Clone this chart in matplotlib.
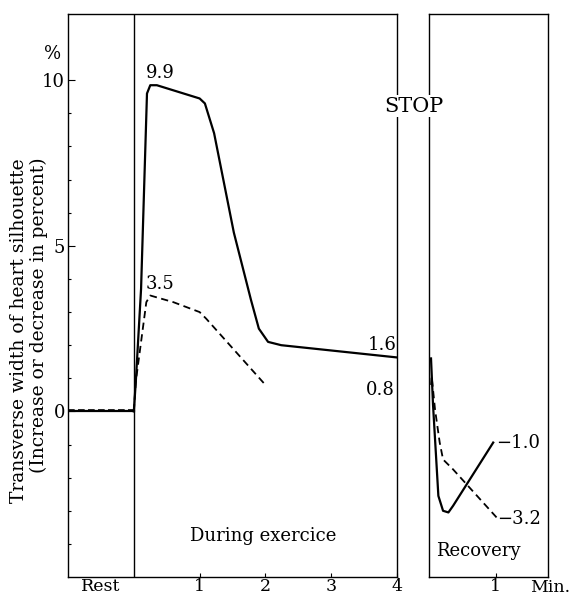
import matplotlib
matplotlib.use("Agg")
import matplotlib.pyplot as plt

plt.rcParams['font.family'] = 'DejaVu Serif'

# rest + exercise (min), percent change of heart width
rest_x = [-1.0, 0.0]
rest_solid = [0.0, 0.0]
rest_dash = [0.05, 0.05]

ex_solid_x = [0.0, 0.03, 0.11, 0.2, 0.25, 0.35, 1.0, 1.08, 1.22, 1.52, 1.78, 1.9, 2.04, 2.24, 4.0]
ex_solid_y = [0.0, 0.9, 3.7, 9.6, 9.85, 9.85, 9.45, 9.3, 8.4, 5.4, 3.37, 2.5, 2.1, 2.0, 1.63]

ex_dash_x = [0.0, 0.03, 0.19, 0.25, 0.6, 1.0, 1.1, 2.0]
ex_dash_y = [0.0, 0.9, 3.3, 3.5, 3.3, 3.0, 2.8, 0.8]

# recovery
rec_solid_x = [0.03, 0.06, 0.14, 0.21, 0.29, 0.36, 0.96]
rec_solid_y = [1.6, 0.2, -2.55, -3.0, -3.05, -2.85, -0.94]

rec_dash_x = [0.03, 0.04, 0.09, 0.16, 0.21, 0.36, 1.01]
rec_dash_y = [0.8, 1.06, 0.06, -0.94, -1.45, -1.75, -3.2]

x_ticks = [-0.5, 1, 2, 3, 4]
x_labels = ['Rest', '1', '2', '3', '4']
y_major = [0, 5, 10]
y_minor = [-4, -3, -2, -1, 1, 2, 3, 4, 6, 7, 8, 9]

fs = 13
fig = plt.figure(figsize=(5.75, 5.99), dpi=100)
ax = fig.add_axes([0.1183, 0.0367, 0.5722, 0.9399])
ax2 = fig.add_axes([0.7461, 0.0367, 0.2070, 0.9399])

lw = 1.6
ax.plot(rest_x, rest_solid, color='black', lw=lw)
ax.plot(rest_x, rest_dash, color='black', lw=1.2, ls=(0, (4, 2)))
ax.plot(ex_solid_x, ex_solid_y, color='black', lw=lw)
ax.plot(ex_dash_x, ex_dash_y, color='black', lw=1.3, ls=(0, (4, 2.5)))
ax.axvline(0, color='black', lw=1.0)

ax.set_xlim(-1, 4)
ax.set_ylim(-5, 12)
ax.set_xticks(x_ticks)
ax.set_xticklabels(x_labels, fontsize=12.5)
ax.xaxis.get_major_ticks()[0].tick1line.set_visible(False)
ax.set_yticks(y_major)
ax.set_yticklabels([str(t) for t in y_major], fontsize=fs)
ax.set_yticks(y_minor, minor=True)
ax.tick_params(axis='x', direction='in', length=3, width=0.8, pad=1)
ax.tick_params(axis='y', which='major', direction='in', length=5, width=0.8, pad=2)
ax.tick_params(axis='y', which='minor', direction='in', length=2.5, width=0.8)
for s in ax.spines.values():
    s.set_linewidth(1.0)

ax.text(-1.24, 10.8, '%', fontsize=fs, ha='center', va='center', clip_on=False)
ax.text(0.4, 10.22, '9.9', fontsize=fs, ha='center', va='center')
ax.text(0.4, 3.85, '3.5', fontsize=fs, ha='center', va='center')
ax.text(3.99, 2.0, '1.6', fontsize=fs, ha='right', va='center')
ax.text(3.97, 0.66, '0.8', fontsize=fs, ha='right', va='center')
ax.text(1.96, -3.77, 'During exercice', fontsize=fs, ha='center', va='center')

ax2.plot(rec_solid_x, rec_solid_y, color='black', lw=lw)
ax2.plot(rec_dash_x, rec_dash_y, color='black', lw=1.3, ls=(0, (4, 2.5)))
ax2.set_xlim(0, 1.78)
ax2.set_ylim(-5, 12)
ax2.set_xticks([1])
ax2.set_xticklabels(['1'], fontsize=12.5)
ax2.set_yticks([])
ax2.tick_params(axis='x', direction='in', length=3, width=0.8, pad=1)
for s in ax2.spines.values():
    s.set_linewidth(1.0)

ax2.text(1.0, -0.94, '\u22121.0', fontsize=fs, ha='left', va='center')
ax2.text(1.02, -3.25, '\u22123.2', fontsize=fs, ha='left', va='center')
ax2.text(0.74, -4.2, 'Recovery', fontsize=fs, ha='center', va='center')

fig.text(414 / 575, 1 - 106 / 599, 'STOP', fontsize=15, ha='center', va='center',
         bbox=dict(facecolor='white', edgecolor='none', pad=1))
fig.text(550 / 575, 1 - 578.5 / 599, 'Min.', fontsize=12.5, ha='center', va='top')
fig.text(19 / 575, 1 - 331 / 599, 'Transverse width of heart silhouette',
         fontsize=13.5, rotation=90, ha='center', va='center')
fig.text(39 / 575, 1 - 315 / 599, '(Increase or decrease in percent)',
         fontsize=13.5, rotation=90, ha='center', va='center')

fig.savefig('out.png', dpi=100)
